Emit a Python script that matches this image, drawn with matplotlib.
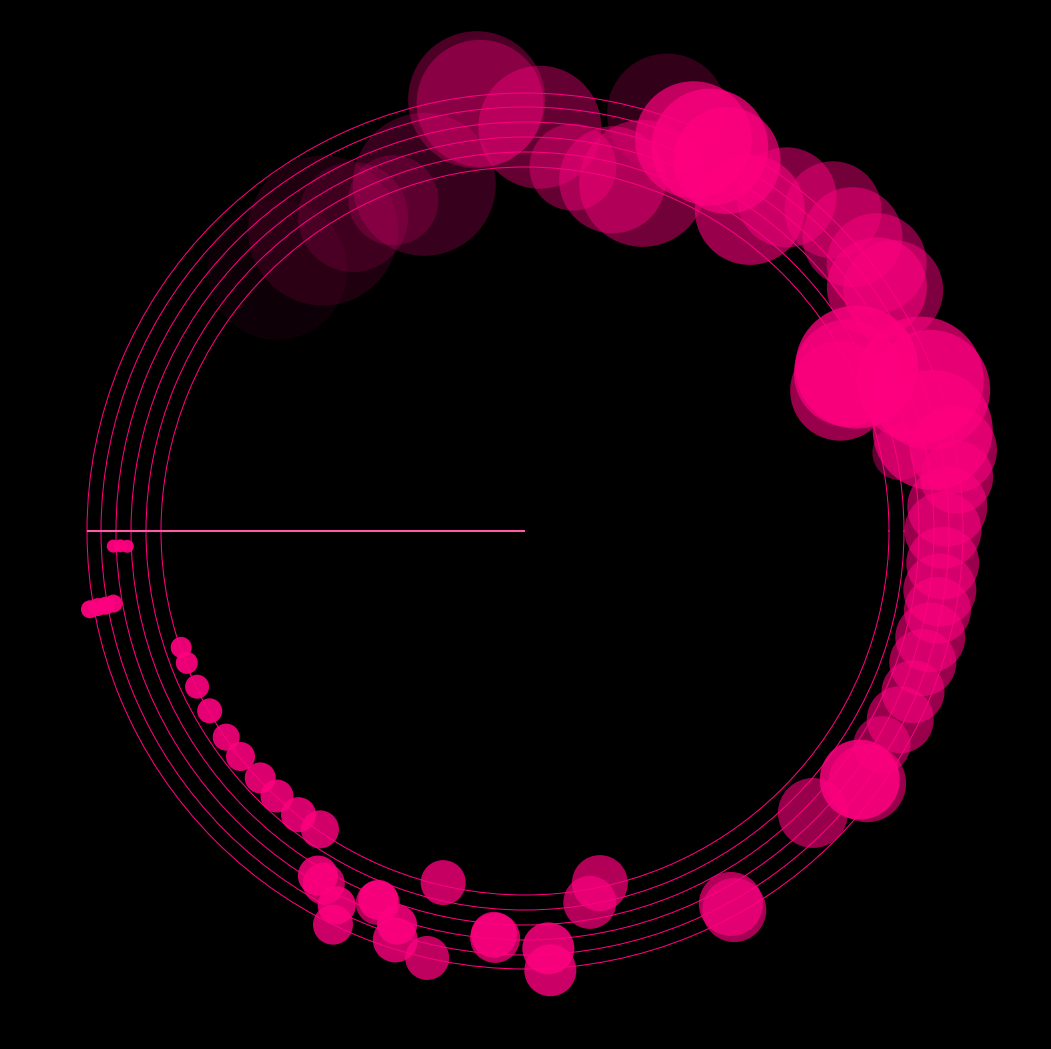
import numpy as np
import matplotlib
matplotlib.use("Agg")
import matplotlib.pyplot as plt

# ---- data (angle in degrees, radial value, magnitude, intensity) ----
theta_deg = [
    182.1, 182.1, 182.2,
    190.2, 190.1, 190.1, 190.0,
    198.7, 201.3, 205.4, 209.7, 214.6, 218.4, 223.0, 226.9, 231.4, 235.5,
    239.0, 240.3, 243.3, 244.0, 248.3, 248.4, 252.0, 252.4, 257.1, 256.9,
    265.6, 265.8, 273.2, 273.3, 282.0, 279.9, 298.9, 298.9,
    315.6, 323.4, 323.6, 329.1, 333.3, 337.5, 341.7, 345.3, 349.1, 351.9, 355.6,
    0.1, 3.3, 7.1, 10.7, 11.8, 13.9, 19.2, 20.9, 26.3, 26.1, 24.0, 34.7, 33.2,
    37.3, 41.9, 46.2, 51.9, 55.0, 61.4, 64.3, 66.7, 71.2, 71.3, 76.0, 82.5,
    87.9, 96.0, 96.4,
    106.2, 111.7, 118.7, 123.9, 133.5,
]
radius = [
    412, 405, 398,
    442, 434, 426, 418,
    363, 363, 363, 363, 363, 363, 362, 363, 363, 362,
    402, 406, 419, 438, 397, 400, 414, 429, 438, 361,
    405, 408, 418, 440, 360, 377, 426, 433,
    403, 417, 425, 416, 420, 420, 419, 419, 420, 419, 419,
    418, 423, 435, 436, 383, 420, 429, 423, 370, 359, 345, 428, 440,
    442, 440, 445, 424, 392, 422, 426, 426, 441, 367, 362, 367,
    404, 430, 434,
    361, 356, 358, 362, 360,
]
magnitude = [
    13, 13, 13,
    18, 18, 18, 18,
    21, 22, 24, 25, 27, 29, 31, 33, 35, 38,
    40, 42, 38, 40, 40, 44, 40, 45, 44, 45,
    46, 50, 52, 52, 56, 53, 64, 64,
    70, 80, 78, 57, 67, 63, 67, 70, 67, 73, 73,
    77, 80, 73, 87, 55, 120, 120, 127, 123, 107, 100, 100, 100,
    100, 100, 97, 100, 110, 107, 117, 117, 120, 127, 107, 87,
    123, 127, 137,
    143, 90, 110, 150, 140,
]
intensity = [
    0.95, 0.95, 0.95,
    0.95, 0.95, 0.95, 0.95,
    0.92, 0.92, 0.90, 0.90, 0.88, 0.88, 0.86, 0.85, 0.84, 0.82,
    0.85, 0.75, 0.85, 0.80, 0.85, 0.70, 0.85, 0.80, 0.75, 0.78,
    0.80, 0.75, 0.85, 0.80, 0.70, 0.70, 0.70, 0.65,
    0.60, 0.85, 0.60, 0.55, 0.60, 0.60, 0.60, 0.60, 0.60, 0.60, 0.60,
    0.60, 0.60, 0.60, 0.60, 0.40, 0.70, 0.70, 0.70, 0.80, 0.70, 0.60, 0.60, 0.50,
    0.50, 0.50, 0.45, 0.50, 0.60, 0.70, 0.75, 0.70, 0.20, 0.45, 0.45, 0.40,
    0.40, 0.35, 0.30,
    0.22, 0.20, 0.15, 0.12, 0.06,
]
ring_values = [364, 379, 394, 409, 424, 438]

# ---- figure ----
W, H, DPI = 1051, 1049, 100
fig = plt.figure(figsize=(W / DPI, H / DPI), dpi=DPI, facecolor="black")
R_MAX = 440
cx, cy = 525, 1049 - 531
ax = fig.add_axes([(cx - R_MAX) / W, (cy - R_MAX) / H, 2 * R_MAX / W, 2 * R_MAX / H],
                  projection="polar")
ax.set_facecolor("black")
ax.set_ylim(0, R_MAX)

pink = "#ff0080"
th = np.deg2rad(theta_deg)
sizes = (np.array(magnitude) * 72 / DPI) ** 2
colors = [matplotlib.colors.to_rgba(pink, a) for a in intensity]
ax.scatter(th, radius, s=sizes, c=colors, edgecolors="none", zorder=1, clip_on=False)

ax.set_rgrids(ring_values, labels=[""] * len(ring_values))
ax.set_thetagrids([])
ax.yaxis.grid(True, color=pink, linewidth=0.75)
ax.xaxis.grid(False)
ax.set_axisbelow(False)
for gl in ax.yaxis.get_gridlines():
    gl.set_zorder(3)
ax.spines["polar"].set_visible(False)
ax.plot([np.pi, np.pi], [0, ring_values[-1]], color="#ff5aa8", linewidth=1.5, zorder=4,
        solid_capstyle="butt")

fig.savefig("out.png", dpi=DPI, facecolor="black")
